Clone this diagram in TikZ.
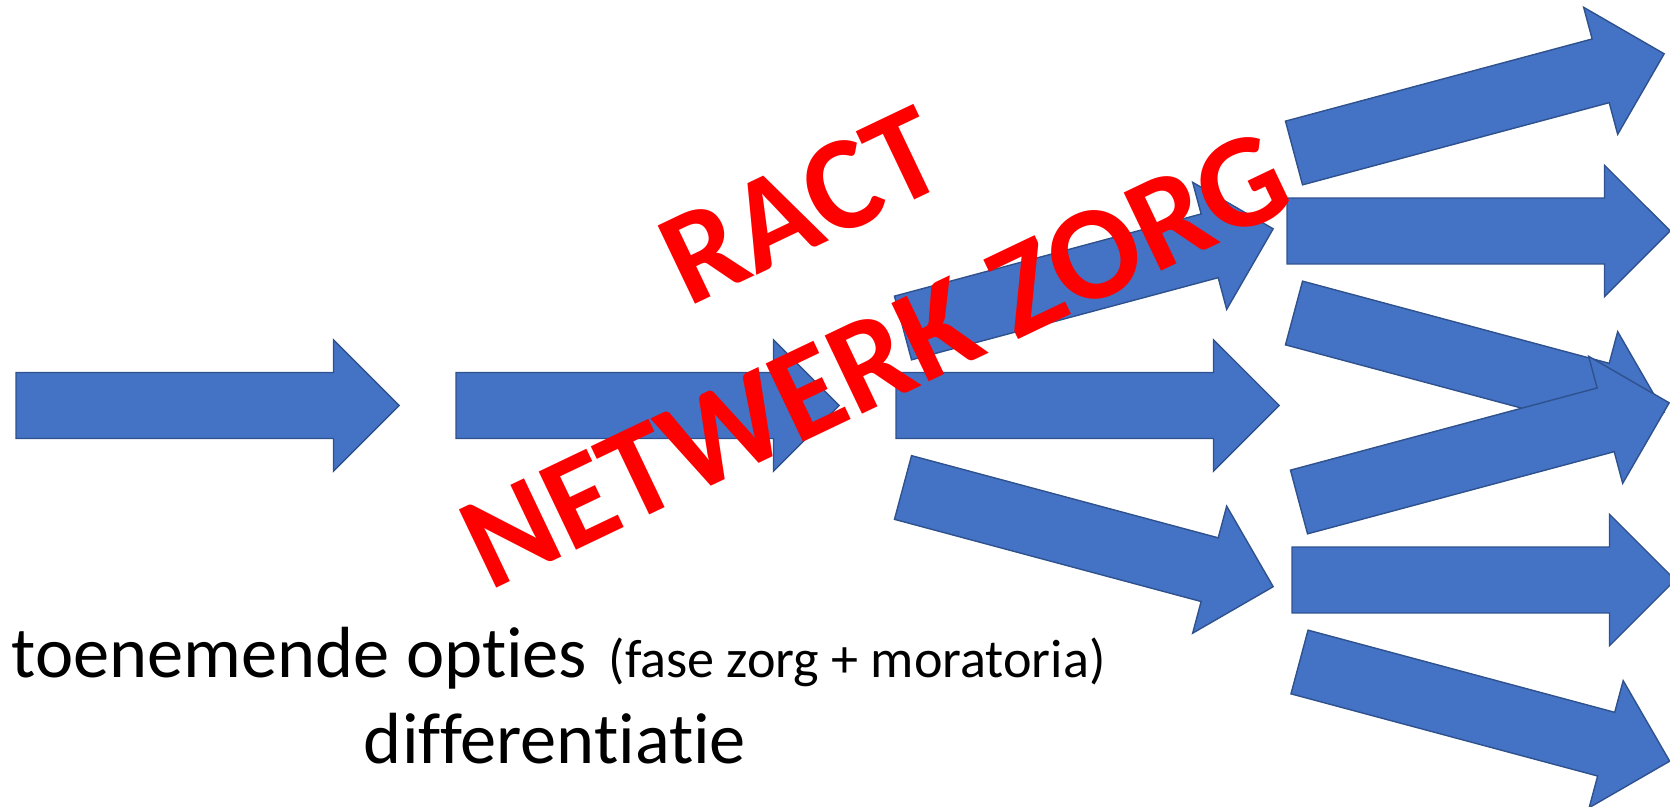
\documentclass[tikz,border=0pt]{standalone}
\usepackage{fontspec}
\setmainfont[Ligatures=NoCommon]{Carlito}
\usepackage{tikz}
\usetikzlibrary{shapes.arrows}
\definecolor{officeblue}{HTML}{4472C4}
\definecolor{officeedge}{HTML}{2F528F}

\begin{document}
\begin{tikzpicture}[x=0.01cm, y=-0.01cm,
  fatarrow/.style={single arrow, draw=officeedge, fill=officeblue, line width=0.4pt,
    minimum height=3.83cm, single arrow head extend=0.3275cm,
    inner xsep=0pt, inner ysep=0.3225cm, outer sep=0pt, anchor=tail},
  stamp/.style={text=red, font=\fontsize{38}{45}\selectfont\bfseries, rotate=25.5,
    inner sep=0pt, anchor=base west}]
\useasboundingbox (0,0) rectangle (1670,807);
\node[fatarrow] (start) at (16,405.5) {};
\node[fatarrow] (next) at (456,405.5) {};
\node[fatarrow, rotate=15] (midup) at (903,328) {};
\node[fatarrow] (mid) at (896,405.5) {};
\node[fatarrow, rotate=-15] (middown) at (903,487.5) {};
\node[fatarrow, rotate=15] (outa) at (1294,153) {};
\node[fatarrow] (outb) at (1287,231) {};
\node[fatarrow, rotate=-15] (outc) at (1294,313) {};
\node[fatarrow, rotate=15] (outd) at (1299,502) {};
\node[fatarrow] (oute) at (1292,580) {};
\node[fatarrow, rotate=-15] (outf) at (1299.5,662) {};
\node[stamp] (ract) at (688,308) {RACT};
\node[stamp] (netwerk) at (489,592) {NETWERK ZORG};
\node[anchor=base west, inner sep=0pt] (opties) at (11,677)
  {\fontsize{20.6}{25}\selectfont toenemende opties\hspace{0.05cm} {\fontsize{15.4}{18}\selectfont (fase zorg + moratoria)}};
\node[anchor=base, inner sep=0pt] (diff) at (555,763) {\fontsize{20.6}{25}\selectfont differentiatie};
\end{tikzpicture}
\end{document}
